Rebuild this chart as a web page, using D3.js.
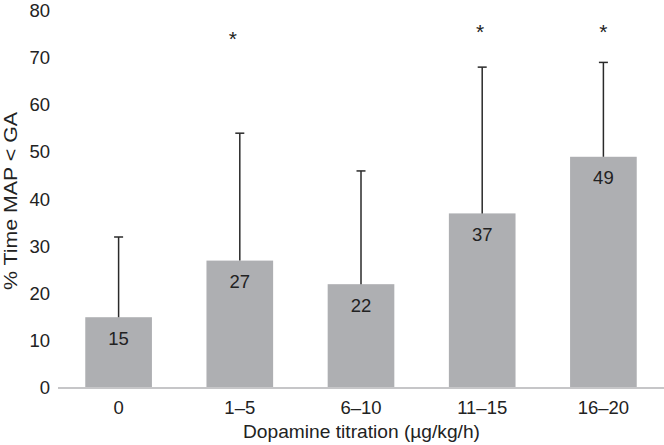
<!DOCTYPE html>
<html><head><meta charset="utf-8">
<script src="https://cdn.jsdelivr.net/npm/d3@7"></script>
<style>body{margin:0;background:#fff}svg{display:block}text{font-family:"Liberation Sans",Arial,sans-serif;fill:#222}</style>
</head><body>
<script>
const categories = ["0","1–5","6–10","11–15","16–20"];
const means = [15,27,22,37,49];
const errTops = [32,54,46,68,69];
const significant = [false,true,false,true,true];
const starValues = [null,74,null,75.5,75.5];
const yTicks = [0,10,20,30,40,50,60,70,80];

const W=664,H=445, FS="18.5px";
const svg=d3.select("body").append("svg").attr("width",W).attr("height",H);
const x=d3.scaleBand().domain(categories).range([58,664]).paddingInner(0.45).paddingOuter(0.225);
const y=d3.scaleLinear().domain([0,80]).range([388,10.5]);

// y tick labels
const ya=d3.axisLeft(y).tickValues(yTicks).tickSize(0).tickPadding(0);
const gy=svg.append("g").attr("transform","translate(50,0)").call(ya);
gy.select(".domain").remove();
gy.selectAll("text").style("font-size",FS).attr("fill","#222").attr("font-family","Liberation Sans, Arial, sans-serif");

// bars
svg.selectAll("rect.bar").data(means).join("rect").attr("class","bar")
 .attr("x",(d,i)=>x(categories[i])).attr("width",x.bandwidth())
 .attr("y",d=>y(d)).attr("height",d=>y(0)-y(d)).attr("fill","#aeafb2");

// baseline
svg.append("line").attr("x1",58).attr("x2",664).attr("y1",y(0)).attr("y2",y(0)).attr("stroke","#c6c6c8").attr("stroke-width",2);

// error bars
const cx=i=>x(categories[i])+x.bandwidth()/2;
const eb=svg.append("g").attr("stroke","#2a2a2a").attr("stroke-width",1.5);
errTops.forEach((t,i)=>{
  eb.append("line").attr("x1",cx(i)).attr("x2",cx(i)).attr("y1",y(means[i])).attr("y2",y(t));
  eb.append("line").attr("x1",cx(i)-4.5).attr("x2",cx(i)+4.5).attr("y1",y(t)).attr("y2",y(t));
});

// value labels
svg.selectAll("text.val").data(means).join("text").attr("class","val")
 .attr("x",(d,i)=>cx(i)).attr("y",d=>y(d)+21)
 .attr("text-anchor","middle").attr("dominant-baseline","central")
 .style("font-size",FS).text(d=>d);

// stars
significant.forEach((s,i)=>{
  if(!s) return;
  svg.append("text").attr("x",cx(i)-(i===1?7:(i===3?2:0))).attr("y",y(starValues[i])).attr("text-anchor","middle")
   .attr("dominant-baseline","central").style("font-size","21px").text("*");
});

// x tick labels
const xa=d3.axisBottom(x).tickSize(0).tickPadding(0);
const gx=svg.append("g").attr("transform","translate(0,408)").call(xa);
gx.select(".domain").remove();
gx.selectAll("text").style("font-size",FS).attr("fill","#222").attr("dy","0.32em").attr("font-family","Liberation Sans, Arial, sans-serif");

// axis titles
svg.append("text").attr("x",361.5).attr("y",431).attr("text-anchor","middle").attr("dominant-baseline","central")
 .attr("textLength",237).attr("lengthAdjust","spacingAndGlyphs")
 .style("font-size",FS).text("Dopamine titration (µg/kg/h)");
svg.append("text").attr("transform","translate(10,201) rotate(-90)").attr("text-anchor","middle").attr("dominant-baseline","central")
 .attr("textLength",178).attr("lengthAdjust","spacingAndGlyphs")
 .style("font-size",FS).text("% Time MAP < GA");
</script>
</body></html>
